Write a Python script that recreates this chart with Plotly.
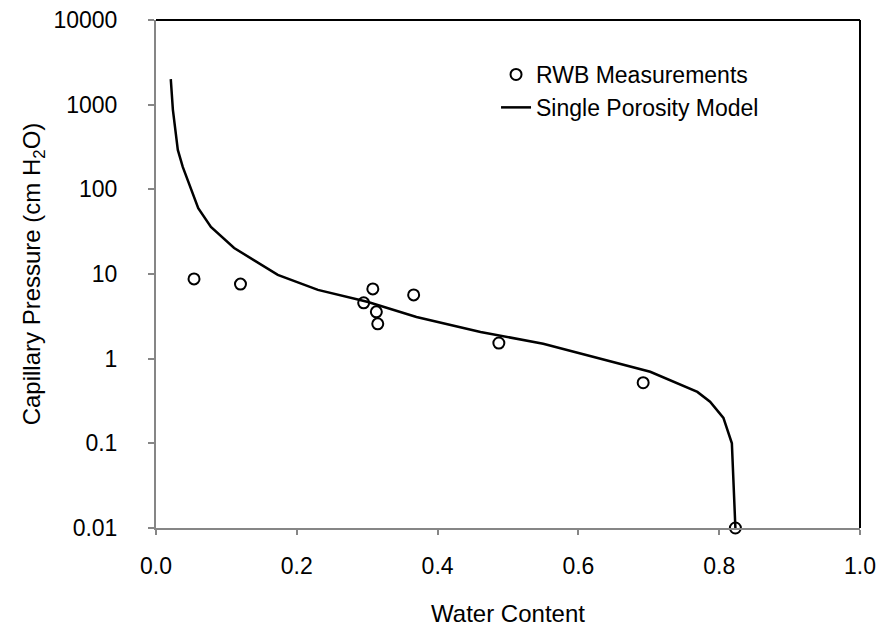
import plotly.graph_objects as go

# Measured data (RWB Measurements)
meas_x = [0.054, 0.120, 0.295, 0.308, 0.313, 0.315, 0.366, 0.487, 0.692, 0.823]
meas_y = [8.75, 7.6, 4.56, 6.67, 3.57, 2.58, 5.66, 1.53, 0.52, 0.01]

# Single porosity model curve
model_x = [0.021, 0.024, 0.031, 0.038, 0.060, 0.078, 0.111, 0.173, 0.230, 0.300,
           0.370, 0.418, 0.461, 0.550, 0.636, 0.702, 0.769, 0.787, 0.806, 0.818, 0.823]
model_y = [2000, 870, 292, 184, 60, 36, 20.3, 9.75, 6.5, 4.7,
           3.1, 2.5, 2.07, 1.5, 0.97, 0.70, 0.405, 0.31, 0.2, 0.1, 0.01]

y_tickvals = [0.01, 0.1, 1, 10, 100, 1000, 10000]
y_ticktext = ["0.01", "0.1", "1", "10", "100", "1000", "10000"]
x_tickvals = [0.0, 0.2, 0.4, 0.6, 0.8, 1.0]
x_ticktext = ["0.0", "0.2", "0.4", "0.6", "0.8", "1.0"]

FONT = "Liberation Sans, Arial, sans-serif"
AXIS_GRAY = "#868686"

fig = go.Figure()
fig.add_trace(go.Scatter(
    x=meas_x, y=meas_y, mode="markers", name="RWB Measurements",
    marker=dict(symbol="circle-open", size=11, color="black", line=dict(width=2, color="black")),
    cliponaxis=False,
))
fig.add_trace(go.Scatter(
    x=model_x, y=model_y, mode="lines", name="Single Porosity Model",
    line=dict(color="black", width=2.5),
))

fig.update_layout(
    width=881, height=631,
    margin=dict(l=156, r=21, t=20, b=103),
    paper_bgcolor="white", plot_bgcolor="white",
    font=dict(family=FONT, size=23, color="black"),
    showlegend=True,
    legend=dict(x=0.483, y=0.935, xanchor="left", yanchor="top",
                bgcolor="rgba(0,0,0,0)", font=dict(size=23),
                traceorder="normal"),
    xaxis=dict(range=[0, 1], tickvals=x_tickvals, ticktext=x_ticktext,
               showgrid=False, zeroline=False, showline=True, linecolor=AXIS_GRAY,
               linewidth=2, ticks="outside", ticklen=5, tickcolor=AXIS_GRAY, tickwidth=2,
               ticklabelstandoff=11, tickfont=dict(size=23), automargin=False,
               title=dict(text="Water Content", standoff=28, font=dict(size=24))),
    yaxis=dict(type="log", range=[-2, 4], tickvals=y_tickvals, ticktext=y_ticktext,
               showgrid=False, zeroline=False, showline=True, linecolor=AXIS_GRAY,
               linewidth=2, ticks="outside", ticklen=6, tickcolor=AXIS_GRAY, tickwidth=2,
               ticklabelstandoff=26, tickfont=dict(size=23), automargin=False,
               title=dict(text="Capillary Pressure (cm H<sub>2</sub>O)", standoff=6,
                          font=dict(size=24))),
    shapes=[
        dict(type="line", xref="paper", yref="paper", x0=0, x1=1, y0=1, y1=1,
             line=dict(color="black", width=2)),
        dict(type="line", xref="paper", yref="paper", x0=1, x1=1, y0=0, y1=1,
             line=dict(color="black", width=2)),
    ],
)

fig.write_html("out.html")
